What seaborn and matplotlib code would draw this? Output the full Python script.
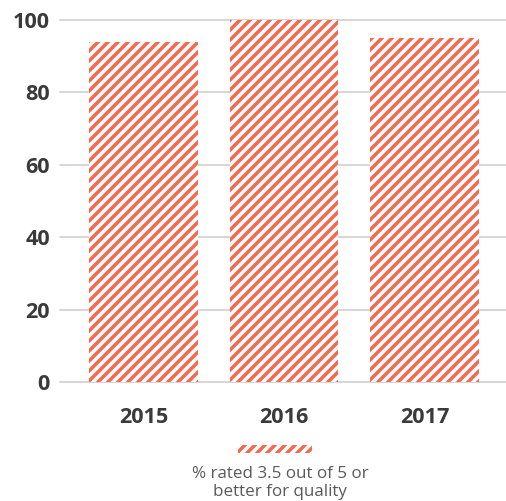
import matplotlib
matplotlib.use("Agg")
import matplotlib.pyplot as plt
import seaborn as sns
import pandas as pd

years = ["2015", "2016", "2017"]
values = [94, 100, 95]
series_label = "% rated 3.5 out of 5 or\nbetter for quality"
yticks = [0, 20, 40, 60, 80, 100]

coral = "#F36A50"
sns.set_theme(style="white")
plt.rcParams["font.family"] = ["Open Sans", "DejaVu Sans"]
plt.rcParams["hatch.linewidth"] = 2.1
plt.rcParams["hatch.color"] = coral

DPI = 120
fig = plt.figure(figsize=(507 / DPI, 501 / DPI), dpi=DPI)
ax = fig.add_axes([60 / 507, 1 - 382 / 501, 1 - 60 / 507, (382 - 20) / 501])

df = pd.DataFrame({"year": years, "value": values})
sns.barplot(data=df, x="year", y="value", ax=ax, color="white",
            edgecolor=coral, linewidth=0, hatch="////", width=0.775,
            label=series_label)
handles, _ = ax.get_legend_handles_labels()
if ax.get_legend() is not None:
    ax.get_legend().remove()

ax.set_ylim(0, 100)
ax.set_xlim(-0.594, 2.587)
ax.set_yticks(yticks)
ax.set_yticklabels([str(v) for v in yticks])
ax.grid(axis="y", color="#cfcfcf", linewidth=1.0, zorder=0)
ax.set_axisbelow(True)
for gl in ax.get_ygridlines():
    gl.set_clip_on(False)
for s in ax.spines.values():
    s.set_visible(False)
ax.set_xlabel("")
ax.set_ylabel("")
ax.tick_params(axis="both", length=0, labelsize=13, labelcolor="#3a3a3a")
ax.tick_params(axis="y", pad=6)
ax.tick_params(axis="x", pad=15)
for lab in ax.get_xticklabels() + ax.get_yticklabels():
    lab.set_fontweight("bold")

leg = fig.legend(handles[:1], [""], loc="center", bbox_to_anchor=(275 / 507, 1 - 451 / 501),
                 frameon=False, fontsize=10, handlelength=4.4, handleheight=0.42,
                 handletextpad=0, borderpad=0, borderaxespad=0)
fig.text(280 / 507, 1 - 483 / 501, series_label, ha="center", va="center",
         fontsize=10.2, color="#5a5a5a", linespacing=1.1)

fig.savefig("out.png", dpi=DPI)
